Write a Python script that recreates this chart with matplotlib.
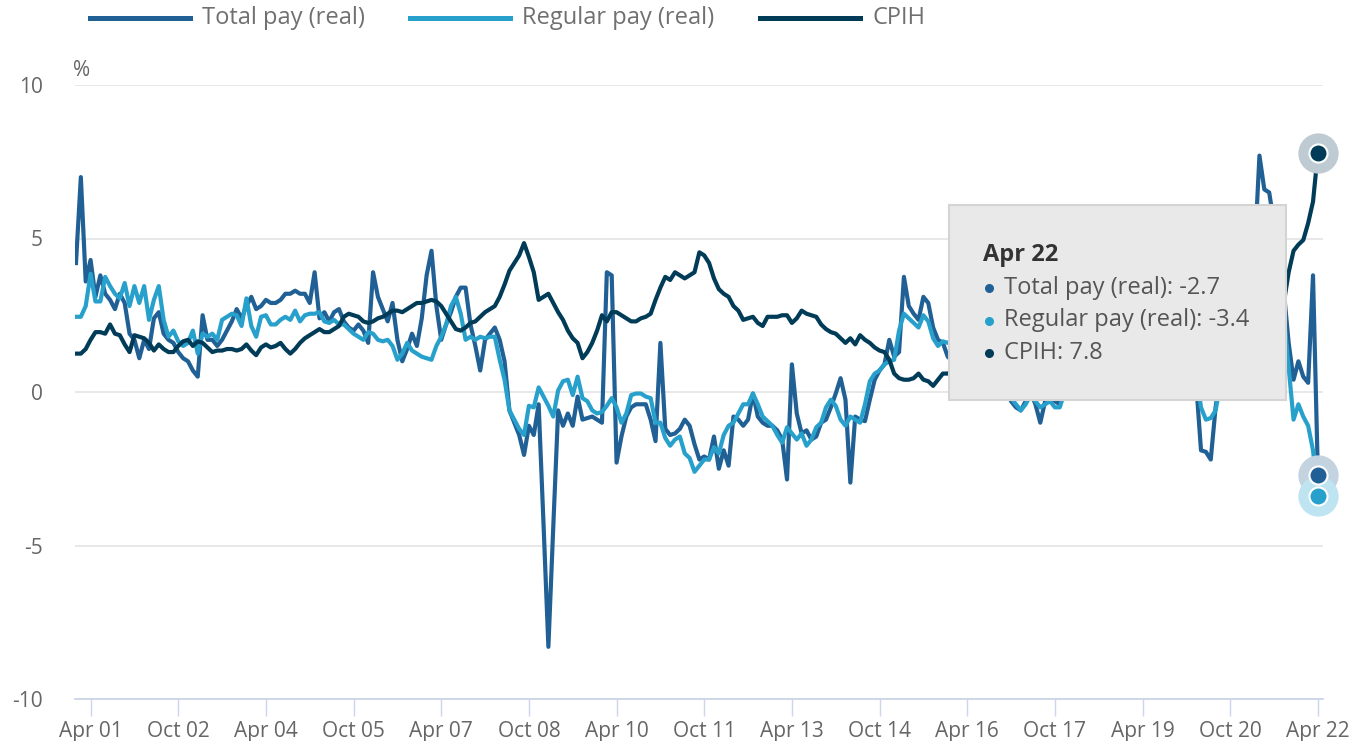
import numpy as np
import pandas as pd
import matplotlib
matplotlib.use("Agg")
import matplotlib.pyplot as plt
from matplotlib.lines import Line2D
from matplotlib.patches import Rectangle

plt.rcParams['font.family'] = ['Open Sans', 'DejaVu Sans']
plt.rcParams['axes.unicode_minus'] = False

# monthly, Jan 2001 .. Apr 2022 (annual % change)
months = pd.date_range("2001-01-01", "2022-04-01", freq="MS")

total_pay = [
    4.2, 7.0, 3.6, 4.3, 3.1, 3.8, 3.2, 3.0, 2.7, 3.2, 2.9, 1.9,          # 2001
    1.7, 1.1, 1.7, 1.4, 2.4, 2.6, 1.9, 1.7, 1.6, 1.3, 1.1, 1.0,          # 2002
    0.7, 0.5, 2.5, 1.7, 1.7, 1.5, 1.7, 2.0, 2.3, 2.7, 2.4, 2.8,          # 2003
    3.1, 2.7, 2.8, 3.0, 2.9, 2.9, 3.0, 3.2, 3.2, 3.3, 3.2, 3.2,          # 2004
    2.9, 3.9, 2.4, 2.6, 2.3, 2.6, 2.7, 2.3, 2.1, 2.0, 2.2, 2.0,          # 2005
    1.6, 3.9, 3.1, 2.7, 2.3, 2.9, 1.7, 1.0, 1.4, 1.9, 1.5, 2.4,          # 2006
    3.8, 4.6, 2.8, 1.7, 2.2, 2.6, 3.1, 3.4, 3.4, 2.2, 1.5, 0.7,          # 2007
    1.7, 1.9, 2.1, 1.7, 1.0, -0.6, -1.0, -1.4, -2.05, -1.1, -1.4, -0.4,  # 2008
    -4.3, -8.3, -4.4, -0.6, -1.1, -0.7, -1.1, -0.15, -0.9, -0.85, -0.8, -0.9,  # 2009
    -1.0, 3.9, 3.8, -2.3, -1.45, -0.8, -0.5, -0.4, -0.4, -0.4, -0.9, -1.6,     # 2010
    1.6, -1.2, -1.4, -1.35, -1.2, -0.9, -1.1, -1.7, -2.2, -2.1, -2.2, -1.45,   # 2011
    -2.5, -1.9, -2.4, -0.8, -0.9, -1.1, -0.9, -0.05, -0.8, -1.0, -1.1, -1.1,   # 2012
    -1.25, -1.55, -2.85, 0.9, -0.7, -1.35, -1.25, -1.55, -1.45, -1.0, -0.9, -0.5,  # 2013
    -0.05, 0.45, -0.25, -2.95, -0.8, -0.9, -0.95, -0.25, 0.4, 0.7, 0.9, 1.7,   # 2014
    1.15, 1.3, 3.75, 2.8, 2.55, 2.35, 3.1, 2.9, 2.1, 1.7, 1.6, 1.15,     # 2015
    1.0, 1.2, 1.5, 1.8, 1.6, 1.7, 1.6, 1.8, 1.5, 1.4, 1.3, 1.0,          # 2016
    -0.3, -0.5, -0.6, -0.3, 0.0, -0.4, -1.0, -0.3, -0.2, -0.3, -0.4, 0.1,  # 2017
    0.2, 0.3, 0.5, 0.4, 0.1, 0.6, 0.5, 0.7, 0.9, 0.8, 1.2, 1.1,          # 2018
    1.3, 1.5, 1.7, 1.6, 1.5, 1.9, 2.0, 1.8, 1.6, 1.6, 1.5, 1.4,          # 2019
    1.6, 1.3, 0.3, -1.9, -1.95, -2.2, -0.5, 0.6, 1.4, 2.0, 2.3, 2.8,     # 2020
    3.6, 4.2, 4.5, 7.7, 6.6, 6.5, 5.5, 4.5, 3.3, 1.6, 0.4, 1.0,          # 2021
    0.5, 0.3, 3.8, -2.7,                                                 # 2022
]

regular_pay = [
    2.45, 2.45, 2.8, 3.85, 2.95, 2.95, 3.75, 3.45, 3.2, 3.05, 3.55, 2.8,
    3.45, 2.9, 3.45, 2.35, 3.0, 3.45, 2.35, 1.8, 2.0, 1.65, 1.5, 1.6,
    2.0, 1.25, 1.9, 1.8, 1.9, 1.7, 2.35, 2.45, 2.55, 2.5, 2.15, 3.05,
    2.15, 1.8, 2.45, 2.5, 2.2, 2.2, 2.35, 2.45, 2.35, 2.65, 2.3, 2.5,
    2.55, 2.55, 2.6, 2.3, 2.25, 2.35, 2.2, 2.2, 2.05, 1.9, 1.8, 1.7,
    1.95, 1.9, 1.7, 1.65, 1.7, 1.5, 1.05, 1.25, 1.6, 1.35, 1.25, 1.15,
    1.1, 1.05, 1.5, 1.8, 2.2, 2.8, 3.1, 2.55, 1.7, 1.8, 1.7, 1.8,
    1.75, 1.8, 1.8, 1.05, 0.4, -0.6, -0.9, -1.2, -1.4, -0.45, -0.5, 0.15,
    -0.15, -0.45, -0.8, 0.05, 0.35, 0.4, -0.1, 0.5, -0.2, -0.3, -0.6, -0.7,
    -0.65, -0.45, -0.2, -0.5, -1.0, -0.7, -0.1, -0.05, -0.05, -0.15, -0.2, -1.0,
    -1.0, -1.5, -1.75, -1.55, -1.45, -2.0, -2.15, -2.6, -2.4, -2.2, -2.2, -1.8,
    -2.0, -1.4, -1.1, -1.0, -0.7, -0.4, -0.4, -0.05, -0.4, -0.8, -0.95, -1.1,
    -1.4, -1.65, -1.15, -1.35, -1.55, -1.35, -1.75, -1.55, -1.15, -1.0, -0.5, -0.25,
    -0.45, -0.9, -1.1, -0.8, -0.9, -1.0, -0.4, 0.35, 0.6, 0.7, 0.9, 1.0,
    1.05, 2.0, 2.55, 2.4, 2.25, 2.1, 2.5, 2.3, 1.75, 1.5, 1.65, 1.6,
    1.7, 1.6, 1.5, 1.7, 1.8, 1.7, 1.5, 1.6, 1.4, 1.2, 1.1, 0.8,
    -0.2, -0.4, -0.6, -0.4, -0.1, -0.3, -0.5, -0.4, -0.3, -0.5, -0.5, 0.0,
    0.1, 0.3, 0.4, 0.4, 0.6, 0.5, 0.7, 0.8, 0.9, 1.0, 1.2, 1.3,
    1.5, 1.6, 1.5, 1.4, 1.6, 1.7, 1.8, 1.9, 1.8, 1.7, 1.5, 1.5,
    1.5, 1.3, 0.6, -0.5, -0.9, -0.85, -0.6, 0.3, 1.0, 1.5, 1.9, 2.3,
    3.0, 3.3, 3.9, 5.0, 5.3, 4.8, 4.4, 3.4, 2.5, 0.8, -0.9, -0.4,
    -0.8, -1.1, -1.9, -3.4,
]

cpih = [
    1.25, 1.25, 1.4, 1.7, 1.95, 1.95, 1.9, 2.2, 1.9, 1.85, 1.55, 1.3,
    1.85, 1.8, 1.75, 1.6, 1.35, 1.55, 1.4, 1.3, 1.3, 1.5, 1.65, 1.7,
    1.5, 1.65, 1.6, 1.45, 1.3, 1.35, 1.35, 1.4, 1.4, 1.35, 1.4, 1.55,
    1.35, 1.2, 1.45, 1.55, 1.45, 1.5, 1.6, 1.4, 1.25, 1.4, 1.6, 1.75,
    1.85, 1.95, 2.05, 1.95, 1.95, 2.05, 2.15, 2.45, 2.55, 2.5, 2.45, 2.3,
    2.25, 2.3, 2.4, 2.45, 2.55, 2.65, 2.65, 2.6, 2.7, 2.8, 2.9, 2.9,
    2.95, 3.0, 2.95, 2.8, 2.55, 2.3, 2.05, 2.0, 2.1, 2.25, 2.3, 2.45,
    2.6, 2.7, 2.8, 3.1, 3.5, 3.95, 4.2, 4.45, 4.85, 4.4, 3.9, 3.0,
    3.1, 3.2, 2.9, 2.6, 2.35, 2.0, 1.75, 1.6, 1.1, 1.3, 1.6, 2.0,
    2.5, 2.3, 2.6, 2.6, 2.5, 2.4, 2.3, 2.3, 2.4, 2.45, 2.55, 3.0,
    3.4, 3.75, 3.65, 3.9, 3.8, 3.7, 3.8, 3.9, 4.55, 4.45, 4.2, 3.7,
    3.35, 3.2, 3.1, 2.8, 2.65, 2.35, 2.4, 2.45, 2.25, 2.15, 2.45, 2.45,
    2.45, 2.5, 2.5, 2.25, 2.4, 2.65, 2.55, 2.5, 2.45, 2.2, 2.05, 1.95,
    1.9, 1.75, 1.6, 1.75, 1.55, 1.85, 1.7, 1.6, 1.45, 1.35, 1.3, 1.05,
    0.6, 0.45, 0.4, 0.4, 0.45, 0.6, 0.4, 0.35, 0.2, 0.4, 0.6, 0.6,
    0.7, 0.6, 0.8, 0.7, 0.7, 0.8, 0.9, 0.9, 1.0, 1.2, 1.4, 1.8,
    1.9, 2.3, 2.3, 2.6, 2.7, 2.6, 2.6, 2.7, 2.8, 2.8, 2.8, 2.7,
    2.7, 2.5, 2.3, 2.2, 2.3, 2.3, 2.3, 2.4, 2.2, 2.2, 2.0, 2.0,
    1.8, 1.8, 1.8, 2.0, 1.9, 1.8, 1.9, 1.6, 1.5, 1.4, 1.5, 1.4,
    1.8, 1.7, 1.5, 0.9, 0.7, 0.8, 1.1, 0.5, 0.7, 0.9, 0.6, 0.8,
    0.9, 0.7, 1.0, 1.6, 2.1, 2.4, 2.1, 3.0, 2.9, 3.9, 4.6, 4.8,
    4.95, 5.5, 6.2, 7.8,
]

series = [
    ("Total pay (real)", total_pay, "#206095", "#c3d3e0"),
    ("Regular pay (real)", regular_pay, "#27a0cc", "#bfe4f1"),
    ("CPIH", cpih, "#003c57", "#bfcbd3"),
]

W, H = 1355, 741
def px(x, y):
    return x / W, 1 - y / H

x = np.arange(len(months))
tick_idx = list(range(3, len(months), 18))
tick_labels = [months[i].strftime("%b %y") for i in tick_idx]

fig = plt.figure(figsize=(W / 100, H / 100), dpi=100)
ax = fig.add_axes([75 / W, 42 / H, (1323 - 75) / W, (699 - 85) / H])

for name, vals, col, halo in series:
    ax.plot(x, vals, color=col, lw=3.0, solid_joinstyle="round", zorder=3)

# end-point markers
for name, vals, col, halo in series:
    ax.plot(x[-1], vals[-1], "o", ms=29, color=halo, mec="none", zorder=6, clip_on=False)
for name, vals, col, halo in series:
    ax.plot(x[-1], vals[-1], "o", ms=13, color=col, mec="white", mew=1.5, zorder=7, clip_on=False)

ax.set_xlim(-0.2, 256.05)
ax.set_ylim(-10, 10)
ax.set_yticks([-10, -5, 0, 5, 10])
ax.set_yticklabels(["-10", "-5", "0", "5", "10"])
ax.set_xticks(tick_idx)
ax.set_xticklabels(tick_labels)

ax.grid(axis="y", color="#e6e6e6", lw=1.3, zorder=0)
for s in ["top", "right", "left"]:
    ax.spines[s].set_visible(False)
ax.spines["bottom"].set_color("#ccd6eb")
ax.spines["bottom"].set_linewidth(1.3)
ax.tick_params(axis="y", length=0, pad=23, labelsize=15, labelcolor="#666666")
ax.tick_params(axis="x", length=12, width=1, color="#ccd6eb", pad=4, labelsize=15, labelcolor="#666666")

fig.text(*px(73, 70), "%", fontsize=15, color="#666666", va="center", ha="left")

# legend
lx = [90, 410, 760]
for (name, vals, col, halo), x0 in zip(series, lx):
    fig.add_artist(Line2D([x0 / W, (x0 + 100) / W], [1 - 18 / H] * 2, color=col, lw=3.6,
                          transform=fig.transFigure))
    fig.text(*px(x0 + 112, 18), name, fontsize=17, color="#707070", va="center", ha="left")

# tooltip
ax.add_artist(Rectangle(px(949, 400), (1286 - 949) / W, (400 - 205) / H, transform=fig.transFigure,
                        facecolor="#e9e9e9", edgecolor="#d4d4d4", lw=1.5, zorder=10))
fig.text(*px(983, 255), "Apr 22", fontsize=17, fontweight="bold", color="#333333",
         va="center", ha="left", zorder=11)
for i, (name, vals, col, halo) in enumerate(series):
    yy = 288 + i * 32.5
    fig.add_artist(Line2D([989 / W], [1 - yy / H], marker="o", ms=5.5, color=col,
                          transform=fig.transFigure, zorder=11))
    fig.text(*px(1004, yy), f"{name}: {vals[-1]:.1f}", fontsize=17, color="#555555",
             va="center", ha="left", zorder=11)

fig.savefig("out.png", dpi=100)
